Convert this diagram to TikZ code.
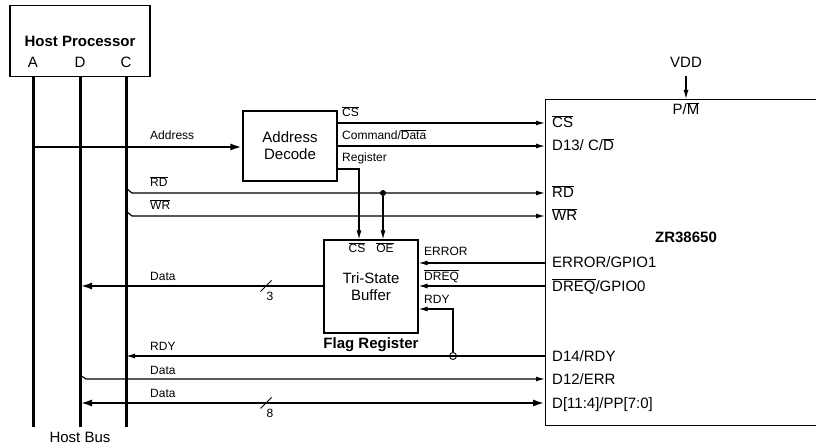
\documentclass[tikz,border=0pt]{standalone}
\usepackage{fontspec}
\setmainfont{Liberation Sans}
\usetikzlibrary{positioning}
\usetikzlibrary{arrows.meta}
\usetikzlibrary{calc}
\newcommand{\nbar}[1]{$\overline{\mbox{#1}}$}
\tikzset{
	block/.style={draw, rectangle, line width=1.2pt, inner sep=0pt},
	boxtext/.style={font=\fontsize{15}{17}\selectfont, align=center, inner sep=0pt},
	boldtext/.style={font=\bfseries\fontsize{15}{17}\selectfont, inner sep=0pt, anchor=base},
	% pin names inside the chip
	pinlabel/.style={anchor=base west, inner sep=0pt, font=\fontsize{15}{17}\selectfont},
	siglabel/.style={anchor=base west, inner sep=0pt, font=\fontsize{12}{14}\selectfont},
	bus/.style={line width=3pt},
	wide/.style={line width=2.8pt, >={Latex[length=12pt, width=7pt]}},
}

\begin{document}
\begin{tikzpicture}[x=1pt, y=-1pt]
	\useasboundingbox (0,0) rectangle (816,446);
	
	\node (host) [block, minimum width=140pt, minimum height=71pt] at (80,41) {};
	\node (hp) [boldtext] at (80,47) {Host Processor};
	\node (a) [boxtext, anchor=base] at (33,68) {A};
	\node (d) [boxtext, anchor=base] at (80,68) {D};
	\node (c) [boxtext, anchor=base] at (126,68) {C};
	\coordinate (busA) at (33,427);
	\coordinate (busD) at (80,427);
	\coordinate (busC) at (126,427);
	\node (hostbus) [boxtext, anchor=base] at (80,442) {Host Bus};
	
	\node (dec) [block, boxtext, minimum width=94pt, minimum height=70pt] at (290,146) {Address\\Decode};
	
	\node (buf) [block, boxtext, minimum width=94pt, minimum height=93pt] at (371,286.5) {Tri-State\\Buffer};
	\node (bcs) [siglabel, anchor=base] at (357,253) {\nbar{CS}};
	\node (boe) [siglabel, anchor=base] at (385,253) {\nbar{OE}};
	\node (flag) [boldtext] at (371,348) {Flag Register};
	
	\node (chip) [block, minimum width=300pt, minimum height=326pt, anchor=north west] at (545,99) {};
	\node (vdd) [boxtext, anchor=base] at (686,68) {VDD};
	\node (pm) [pinlabel, anchor=base] at (686,115) {P/\nbar{M}};
	\node (zr) [boldtext] at (686,243) {ZR38650};
	
	\foreach \name/\y in {cs/123, cd/146, rd/193, wr/216, err/263, dreq/286, rdy/356, d12/379, dat/403}
		\coordinate (p\name) at (545,\y);
	
	\node (lpcs) [pinlabel] at ([xshift=7pt, yshift=-5pt]pcs) {\nbar{CS}};
	\node (lpcd) [pinlabel] at ([xshift=7pt, yshift=-5pt]pcd) {D13/ C/\nbar{D}};
	\node (lprd) [pinlabel] at ([xshift=7pt, yshift=-5pt]prd) {\nbar{RD}};
	\node (lpwr) [pinlabel] at ([xshift=7pt, yshift=-5pt]pwr) {\nbar{WR}};
	\node (lperr) [pinlabel] at ([xshift=7pt, yshift=-5pt]perr) {ERROR/GPIO1};
	\node (lpdreq) [pinlabel] at ([xshift=7pt, yshift=-5pt]pdreq) {\nbar{DREQ}/GPIO0};
	\node (lprdy) [pinlabel] at ([xshift=7pt, yshift=-5pt]prdy) {D14/RDY};
	\node (lpd12) [pinlabel] at ([xshift=7pt, yshift=-5pt]pd12) {D12/ERR};
	\node (lpdat) [pinlabel] at ([xshift=7pt, yshift=-5pt]pdat) {D[11:4]/PP[7:0]};
	
	\node (laddr) [siglabel] at (150,140) {Address};
	\node (lcs) [siglabel] at (342,117) {\nbar{CS}};
	\node (lcmd) [siglabel] at (342,140) {Command/\nbar{Data}};
	\node (lreg) [siglabel] at (342,162) {Register};
	\node (lrd) [siglabel] at (150,187) {\nbar{RD}};
	\node (lwr) [siglabel] at (150,210) {\nbar{WR}};
	\node (lerr) [siglabel] at (424,256) {ERROR};
	\node (ldreq) [siglabel] at (424,280) {\nbar{DREQ}};
	\node (lrdy) [siglabel] at (424,303) {RDY};
	\node (ldata) [siglabel] at (150,280) {Data};
	\node (n3) [siglabel, anchor=base] at (270,300) {3};
	\node (lrdy2) [siglabel] at (150,350) {RDY};
	\node (ldat2) [siglabel] at (150,374) {Data};
	\node (ldat3) [siglabel] at (150,397) {Data};
	\node (n8) [siglabel, anchor=base] at (270,417) {8};
	
	\node (dot) [circle, fill, inner sep=0pt, minimum size=6pt] at ([xshift=12pt]buf.north |- prd) {};
	\node (hop) [circle, draw, inner sep=0pt, minimum size=7pt, line width=0.9pt] at (453,356) {};
	
	\draw[bus] (a |- host.south) -- (busA);
	\draw[bus] (d |- host.south) -- (busD);
	\draw[bus] (c |- host.south) -- (busC);
	
	\begin{scope}[line width=1.2pt, ->, >={Latex[length=9pt, width=5pt]}]
		\draw[wide] (busA |- 0,147) -- (dec.west |- 0,147);
		\draw (dec.east |- pcs) -- (pcs);
		\draw (dec.east |- pcd) -- (pcd);
		\draw ([yshift=-23pt]dec.east) -| ([xshift=-12pt]buf.north);
		
		\draw (busC |- 0,188) -- ++(6,5) -- (prd);
		\draw (busC |- 0,211) -- ++(6,5) -- (pwr);
		\draw (dot) -- (dot |- buf.north);
		
		\draw (perr) -- (buf.east |- perr);
		\draw (pdreq) -- (buf.east |- pdreq);
		\draw (hop.north) |- ([yshift=-22.5pt]buf.east);
		\draw (prdy) -- (busC |- prdy);
		
		\draw[wide] (buf.west |- pdreq) -- (busD |- pdreq);
		\draw[-, line width=0.9pt] (266,286) ++(-5.5,5.5) -- ++(11,-11);
		\draw (busD |- 0,375) -- ++(6,4) -- (pd12);
		\draw[wide, <->] (busD |- pdat) -- (pdat);
		\draw[-, line width=0.9pt] (266,403) ++(-5.5,5.5) -- ++(11,-11);
		
		\draw ([yshift=-8pt]vdd.base) -- (vdd |- chip.north);
	\end{scope}
\end{tikzpicture}
\end{document}
